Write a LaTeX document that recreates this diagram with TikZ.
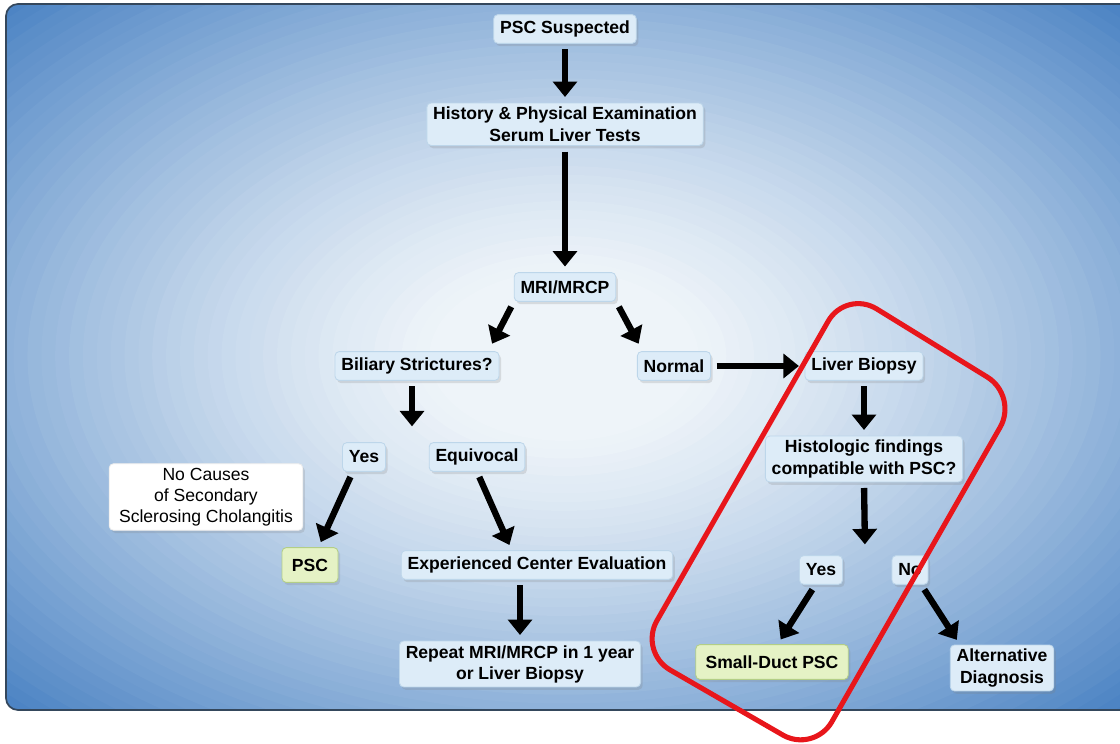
\documentclass[tikz,border=0pt]{standalone}
\usepackage{fontspec}
\setmainfont{Liberation Sans}
\usetikzlibrary{shapes.misc,positioning,arrows.meta,calc,shadows}

\definecolor{boxblue}{HTML}{DDECF8}
\definecolor{boxline}{HTML}{BDD6EA}
\definecolor{boxgreen}{HTML}{E5F2C5}
\definecolor{greenline}{HTML}{B3CE86}
\definecolor{frameline}{HTML}{34475C}
\definecolor{bglight}{HTML}{EEF4F9}
\definecolor{bgdark}{HTML}{4A82C3}
\definecolor{markred}{HTML}{E8161B}

\begin{document}
\begin{tikzpicture}[
    box/.style={rectangle, rounded corners=3pt, draw=boxline, fill=boxblue, line width=0.6pt, inner xsep=4.5pt, inner ysep=3pt, minimum height=0.72cm, align=center, font=\bfseries\fontsize{12.5}{15}\selectfont, drop shadow={shadow xshift=1.5pt, shadow yshift=-2pt, opacity=0.22}},
    result/.style={box, draw=greenline, fill=boxgreen, minimum height=0.87cm, inner xsep=7pt},
    note/.style={box, fill=white, draw=white!85!gray, inner xsep=7pt, font=\fontsize{12.5}{15}\selectfont},
    arrow/.style={line width=4.5pt, -{Triangle[length=11pt,width=17pt]}, shorten <=4pt, shorten >=4pt},
]
\useasboundingbox (0,0) rectangle (28,-18.6);

% ====== Background panel ======
\begin{scope}
\clip[rounded corners=0.3cm] (0.15,-0.1) rectangle (28.5,-17.75);
\foreach \i in {0,...,60}{
    \pgfmathsetmacro\rr{1.08-\i*0.0175}
    \pgfmathtruncatemacro\pp{min(100,100*(max(0,(\rr-0.15)/0.85))^1.3)}
    \fill[bgdark!\pp!bglight] (14.1,-8.9) ellipse ({19.8*\rr} and {12.5*\rr});
}
\end{scope}
\draw[frameline, line width=1.2pt, rounded corners=0.3cm] (0.15,-0.1) rectangle (28.5,-17.75);

% ====== Work-up ======
\node[box] (susp) at (14.125, -0.725) {PSC Suspected};
\node[box, below=1.47cm of susp] (hist) {History \& Physical Examination\\Serum Liver Tests};
\node[box] (mri) at (14.125, -7.175) {MRI/MRCP};

\draw[arrow] (susp) -- (hist);
\draw[arrow] (hist) -- (mri);

% ====== Imaging result ======
\node[box] (bil) at (10.425, -9.15) {Biliary Strictures?};
\node[box] (norm) at (16.85, -9.15) {Normal};
\node[box] (biop) at (21.6, -9.15) {Liver Biopsy};

\draw[arrow, shorten >=6pt] (mri.south west) -- ([xshift=-8pt]bil.north east);
\draw[arrow, shorten >=6pt] (mri.south east) -- ([xshift=4pt]norm.north west);
\draw[arrow] (norm) -- (biop);

% ====== Strictures branch ======
\coordinate (bilend) at (10.3, -10.8);
\node[box] (yesA) at (9.1, -11.425) {Yes};
\node[box] (equiv) at (11.925, -11.425) {Equivocal};
\node[note] (nocause) at (5.15, -12.425) {No Causes\\of Secondary\\Sclerosing Cholangitis};
\node[result, minimum width=1.4cm] (psc) at (7.75, -14.125) {PSC};
\node[box] (center) at (13.425, -14.125) {Experienced Center Evaluation};
\node[box] (repeat) at (13.0, -16.6) {Repeat MRI/MRCP in 1 year\\or Liver Biopsy};

\draw[arrow] (bil.south -| bilend) -- (bilend);
\draw[arrow] ([xshift=-8pt]yesA.south) -- ([xshift=6pt]psc.north);
\draw[arrow] (equiv.south) -- ([xshift=-18pt]center.north);
\draw[arrow] (center.south -| repeat.north) -- (repeat.north);

% ====== Biopsy branch ======
\node[box, below=1.37cm of biop] (histo) {Histologic findings\\compatible with PSC?};
\coordinate (histend) at (21.625, -13.75);
\node[box] (yesB) at (20.525, -14.25) {Yes};
\node[box] (noB) at (22.75, -14.25) {No};
\node[result] (small) at (19.3, -16.55) {Small-Duct PSC};
\node[box] (alt) at (25.05, -16.7) {Alternative\\Diagnosis};

\draw[arrow] (biop) -- (histo);
\draw[arrow] (histo.south) -- (histend);
\draw[arrow] ([xshift=-4pt]yesB.south) -- ([xshift=4pt]small.north);
\draw[arrow] ([xshift=8pt]noB.south) -- ([xshift=-30pt]alt.north);

% ====== Highlight ======
\draw[markred, line width=3.6pt, rounded corners=0.9cm]
    (21.15,-7.25) -- (25.45,-9.9) -- (20.35,-18.825) -- (15.975,-16.3) -- cycle;

\end{tikzpicture}
\end{document}
